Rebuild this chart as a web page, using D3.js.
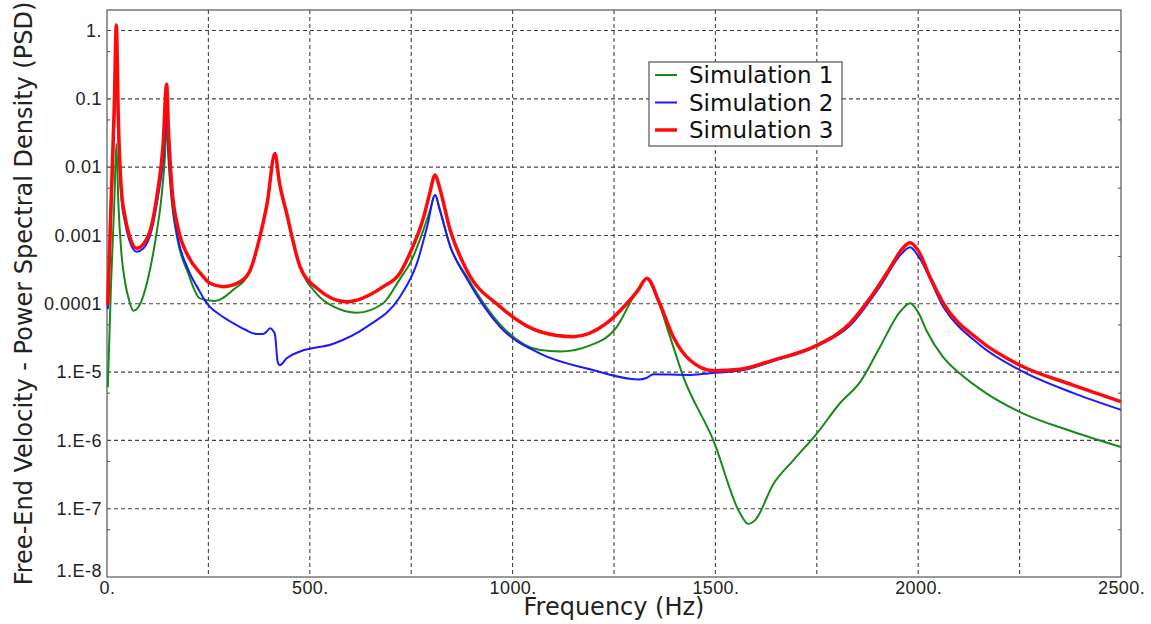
<!DOCTYPE html>
<html>
<head>
<meta charset="utf-8">
<script src="https://cdn.jsdelivr.net/npm/d3@7"></script>
<style>
  body { margin: 0; background: #fff; }
  svg { display: block; font-family: "DejaVu Sans", Verdana, sans-serif; }
  .grid line { stroke: #444; stroke-dasharray: 4,3; stroke-width: 1.1; }
  .tick text { fill: #222; }
</style>
</head>
<body>
<div id="chart"></div>
<script>
// Simulation 1 (green)
var freq1 = [2, 10, 18, 23, 28, 35, 45, 55, 65, 80, 100, 120, 135, 143, 147, 152, 160, 175, 200, 229, 266, 311, 353, 377, 395, 414, 425, 443, 476, 517, 560, 616, 681, 722, 747, 780, 795, 809, 820, 846, 887, 969, 1068, 1117, 1191, 1257, 1298, 1331, 1355, 1388, 1421, 1495, 1561, 1581, 1598, 1643, 1692, 1750, 1807, 1857, 1906, 1955, 1980, 2000, 2021, 2060, 2103, 2170, 2251, 2380, 2500];
var sim1 = [6e-6, 2e-4, 3e-3, 0.022, 3e-3, 6e-4, 2e-4, 1.1e-4, 7.9e-5, 9.5e-5, 2.2e-4, 9e-4, 4e-3, 0.015, 0.045, 0.012, 3e-3, 8e-4, 2.8e-4, 1.2e-4, 1.1e-4, 1.6e-4, 3.0e-4, 9.6e-4, 3e-3, 0.0159, 6e-3, 2.1e-3, 3.5e-4, 1.4e-4, 9e-5, 7.4e-5, 1.02e-4, 2.3e-4, 3.9e-4, 1.2e-3, 2.2e-3, 3.9e-3, 2.5e-3, 7e-4, 2.5e-4, 5e-5, 2.1e-5, 2.0e-5, 2.46e-5, 4.6e-5, 1.26e-4, 2.3e-4, 1.26e-4, 3.3e-5, 8.5e-6, 1.0e-6, 8.5e-8, 6.0e-8, 6.8e-8, 2.3e-7, 5.1e-7, 1.26e-6, 3.5e-6, 7.2e-6, 2.35e-5, 7.6e-5, 1.02e-4, 7.5e-5, 4.0e-5, 1.7e-5, 9.5e-6, 4.8e-6, 2.6e-6, 1.35e-6, 8.0e-7];

// Simulation 2 (blue)
var freq2 = [2, 10, 18, 23, 28, 35, 45, 55, 73, 90, 110, 125, 138, 147, 152, 160, 175, 200, 229, 240, 254, 280, 311, 340, 369, 385, 395, 402, 410, 414, 421, 426, 443, 476, 558, 640, 722, 764, 790, 809, 820, 846, 887, 969, 1068, 1191, 1310, 1330, 1347, 1437, 1503, 1561, 1643, 1750, 1832, 1906, 1960, 1980, 2000, 2062, 2152, 2251, 2380, 2500];
var sim2 = [8.3e-5, 2e-3, 0.05, 0.5, 0.03, 4e-3, 1.5e-3, 8.5e-4, 5.8e-4, 6.5e-4, 1.2e-3, 3.5e-3, 0.012, 0.058, 0.015, 3.5e-3, 9e-4, 3.2e-4, 1.5e-4, 1.15e-4, 9e-5, 6.8e-5, 5.2e-5, 4.2e-5, 3.6e-5, 3.6e-5, 4.0e-5, 4.4e-5, 4.0e-5, 3.6e-5, 1.4e-5, 1.26e-5, 1.6e-5, 2.0e-5, 2.6e-5, 4.6e-5, 1.26e-4, 3.9e-4, 1.4e-3, 3.9e-3, 2.4e-3, 7e-4, 2.35e-4, 4.6e-5, 1.87e-5, 1.1e-5, 7.8e-6, 8.2e-6, 9.3e-6, 9.1e-6, 9.8e-6, 1.05e-5, 1.45e-5, 2.4e-5, 4.8e-5, 1.8e-4, 5.5e-4, 6.7e-4, 5e-4, 9.0e-5, 2.5e-5, 1.07e-5, 5e-6, 2.8e-6];

// Simulation 3 (red)
var freq3 = [2, 10, 18, 23, 28, 35, 45, 55, 73, 90, 110, 125, 138, 147, 152, 160, 175, 200, 230, 254, 287, 328, 353, 377, 395, 414, 425, 443, 476, 517, 591, 681, 722, 747, 780, 795, 809, 820, 846, 887, 969, 1068, 1150, 1232, 1281, 1310, 1331, 1363, 1396, 1437, 1495, 1561, 1643, 1750, 1832, 1881, 1930, 1960, 1980, 2000, 2030, 2062, 2152, 2251, 2380, 2500];
var sim3 = [9.6e-5, 3e-3, 0.08, 1.21, 0.05, 5e-3, 1.8e-3, 1.0e-3, 6.5e-4, 7.5e-4, 1.4e-3, 4.5e-3, 0.02, 0.164, 0.03, 5e-3, 1.3e-3, 5e-4, 2.8e-4, 2.0e-4, 1.78e-4, 2.1e-4, 3.1e-4, 9.6e-4, 3e-3, 0.0159, 6e-3, 2.1e-3, 3.5e-4, 1.7e-4, 1.07e-4, 1.78e-4, 2.8e-4, 5.5e-4, 1.8e-3, 4e-3, 7.7e-3, 5e-3, 1.2e-3, 3.1e-4, 9.1e-5, 3.9e-5, 3.3e-5, 5.2e-5, 1.0e-4, 1.6e-4, 2.36e-4, 1.0e-4, 3.3e-5, 1.5e-5, 1.05e-5, 1.1e-5, 1.5e-5, 2.46e-5, 5.2e-5, 1.2e-4, 3.3e-4, 6.3e-4, 7.8e-4, 6e-4, 2.4e-4, 1.02e-4, 2.9e-5, 1.26e-5, 6.5e-6, 3.7e-6];

var seriesNames = ["Simulation 1", "Simulation 2", "Simulation 3"];
var xTicks = [0, 500, 1000, 1500, 2000, 2500];
var xTickLabels = ["0.", "500.", "1000.", "1500.", "2000.", "2500."];
var xGrid = [250, 500, 750, 1000, 1250, 1500, 1750, 2000, 2250];
var yTicks = [1e-8, 1e-7, 1e-6, 1e-5, 1e-4, 1e-3, 1e-2, 1e-1, 1];
var yTickLabels = ["1.E-8", "1.E-7", "1.E-6", "1.E-5", "0.0001", "0.001", "0.01", "0.1", "1."];
var yMinor = [5e-8, 5e-7, 5e-6, 5e-5, 5e-4, 5e-3, 5e-2, 5e-1];

var width = 1151, height = 624;
var margin = { left: 107, right: 30, top: 10, bottom: 47 };

var xScale = d3.scaleLinear().domain([0, 2500]).range([margin.left, width - margin.right]);
var yScale = d3.scaleLog().domain([1e-8, 2]).range([height - margin.bottom, margin.top]);

var svg = d3.select("#chart").append("svg").attr("width", width).attr("height", height);

// grid
svg.append("g").attr("class", "grid")
    .selectAll("line").data(xGrid).enter().append("line")
    .attr("x1", function (d) { return xScale(d); })
    .attr("x2", function (d) { return xScale(d); })
    .attr("y1", yScale.range()[1])
    .attr("y2", yScale.range()[0]);
svg.append("g").attr("class", "grid")
    .selectAll("line").data(yTicks.slice(1)).enter().append("line")
    .attr("x1", xScale.range()[0])
    .attr("x2", xScale.range()[1])
    .attr("y1", function (d) { return yScale(d); })
    .attr("y2", function (d) { return yScale(d); });

// frame
svg.append("rect")
    .attr("x", xScale.range()[0]).attr("y", yScale.range()[1])
    .attr("width", xScale.range()[1] - xScale.range()[0])
    .attr("height", yScale.range()[0] - yScale.range()[1])
    .attr("fill", "none").attr("stroke", "#555").attr("stroke-width", 1.2);

// axes
var yAxis = d3.axisLeft(yScale).tickValues(yTicks).tickSize(0).tickPadding(5)
    .tickFormat(function (d, i) { return yTickLabels[i]; });
svg.append("g").attr("transform", "translate(" + xScale.range()[0] + ",0)")
    .call(yAxis)
    .call(function (g) { g.select(".domain").remove(); })
    .selectAll("text")
    .style("font-size", "18px").style("letter-spacing", "0.5px")
    .attr("dy", function (d, i) { return i === 0 ? "-0.05em" : "0.32em"; });

var xAxis = d3.axisBottom(xScale).tickValues(xTicks).tickSize(0).tickPadding(4)
    .tickFormat(function (d, i) { return xTickLabels[i]; });
svg.append("g").attr("transform", "translate(0," + yScale.range()[0] + ")")
    .call(xAxis)
    .call(function (g) { g.select(".domain").remove(); })
    .selectAll("text").style("font-size", "18px").style("letter-spacing", "0.4px");

// minor ticks, inward on left and right
svg.append("g").attr("transform", "translate(" + xScale.range()[0] + ",0)")
    .call(d3.axisLeft(yScale).tickValues(yMinor).tickSize(-3).tickFormat(""))
    .call(function (g) { g.select(".domain").remove(); g.selectAll("line").attr("stroke", "#555"); });
svg.append("g").attr("transform", "translate(" + xScale.range()[1] + ",0)")
    .call(d3.axisRight(yScale).tickValues(yMinor).tickSize(-3).tickFormat(""))
    .call(function (g) { g.select(".domain").remove(); g.selectAll("line").attr("stroke", "#555"); });

// lines
var line = d3.line()
    .x(function (d) { return xScale(d[0]); })
    .y(function (d) { return yScale(d[1]); })
    .curve(d3.curveMonotoneX);

var series = [
    { name: seriesNames[0], f: freq1, v: sim1, color: "#158a15", w: 2 },
    { name: seriesNames[1], f: freq2, v: sim2, color: "#1a1aff", w: 2 },
    { name: seriesNames[2], f: freq3, v: sim3, color: "#ff0a0a", w: 3.5 }
];

series.forEach(function (s) {
    svg.append("path")
        .attr("fill", "none")
        .attr("stroke", s.color)
        .attr("stroke-width", s.w)
        .attr("stroke-linejoin", "round")
        .attr("d", line(s.f.map(function (f, i) { return [f, s.v[i]]; })));
});

// legend
var legend = svg.append("g").attr("transform", "translate(649,62)");
legend.append("rect").attr("width", 193).attr("height", 84)
    .attr("fill", "#fff").attr("stroke", "#555").attr("stroke-width", 1.2);
series.forEach(function (s, i) {
    var yy = 13 + i * 27.5;
    legend.append("line").attr("x1", 6).attr("x2", 28).attr("y1", yy).attr("y2", yy)
        .attr("stroke", s.color).attr("stroke-width", s.w);
    legend.append("text").attr("x", 40).attr("y", yy).attr("dy", "0.36em")
        .style("font-size", "23px").attr("fill", "#111").text(s.name);
});

// titles
svg.append("text")
    .attr("x", (xScale.range()[0] + xScale.range()[1]) / 2)
    .attr("y", 615)
    .attr("text-anchor", "middle")
    .style("font-size", "24px").attr("fill", "#222")
    .text("Frequency (Hz)");

svg.append("text")
    .attr("transform", "translate(32," + ((yScale.range()[0] + yScale.range()[1]) / 2) + ") rotate(-90)")
    .attr("text-anchor", "middle")
    .style("font-size", "24px").attr("fill", "#222")
    .text("Free-End Velocity - Power Spectral Density (PSD)");
</script>
</body>
</html>
